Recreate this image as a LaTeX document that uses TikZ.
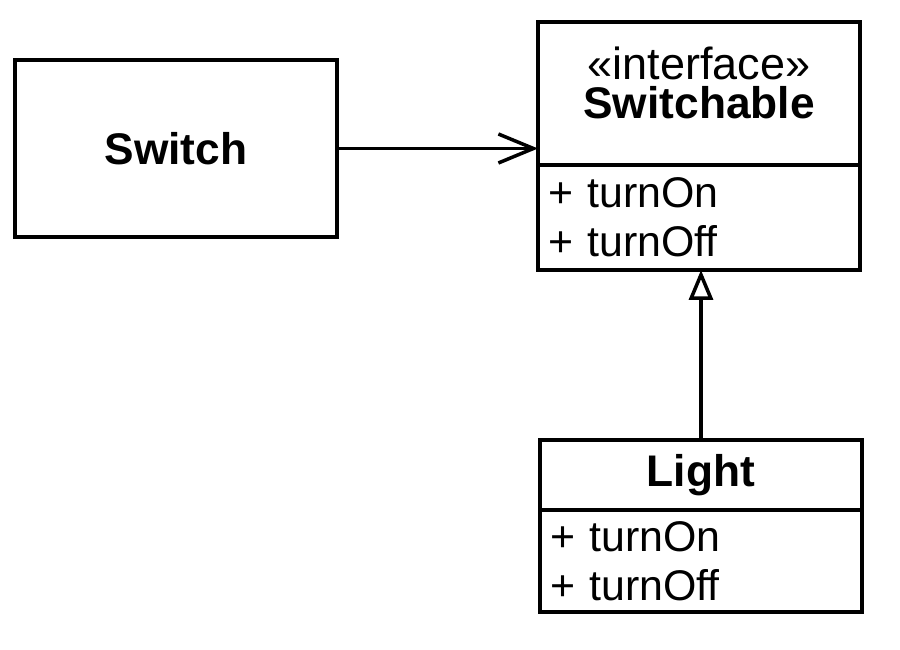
\documentclass[tikz,border=0pt]{standalone}
\usepackage{fontspec}
\setmainfont{Liberation Sans}
\usepackage{tikz}
\usetikzlibrary{arrows.meta,positioning}

\begin{document}
\begin{tikzpicture}[
  cls/.style={draw,line width=1.1pt,minimum width=3.22cm,inner sep=0pt,outer sep=0pt},
  ops/.style={cls,align=left,text width=3.02cm,inner xsep=0.1cm,
              font=\fontsize{12.2}{14}\selectfont},
  title/.style={font=\fontsize{12.6}{14}\selectfont\bfseries},
  dep/.style={-{Straight Barb[length=3.5mm,width=2.9mm]},line width=1pt},
  inh/.style={-{Triangle[open,length=3mm,width=2.4mm,fill=white]},line width=1pt},
]
\useasboundingbox (0,0) rectangle (9,-6.5);
\node[cls,minimum height=1.77cm,title] (sw) at (1.76,-1.485) {Switch};
% interface
\node[cls,minimum height=1.43cm] (swh) at (6.99,-0.935) {};
\node[anchor=north,inner sep=0pt,font=\fontsize{12.8}{14}\selectfont]
  (swst) at ([yshift=-0.24cm]swh.north) {«interface»};
\node[inner sep=0pt,title,below=1.5pt of swst] (swt) {Switchable};
\node[ops,minimum height=1.05cm,below=0pt of swh] (swo) {+ turnOn\\+ turnOff\\[2pt]};
% class
\node[cls,minimum height=0.70cm,title] (lh) at (7.01,-4.75) {Light};
\node[ops,minimum height=1.02cm,below=0pt of lh] (lo) {+ turnOn\\+ turnOff};
\draw[dep] (sw.east) -- (sw.east -| swh.west);
\draw[inh] (lh.north) -- (lh.north |- swo.south);
\end{tikzpicture}
\end{document}
